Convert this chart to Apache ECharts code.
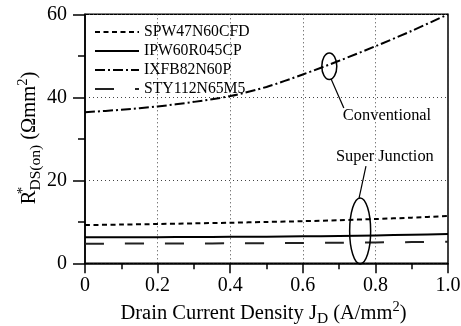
<!DOCTYPE html>
<html>
<head>
<meta charset="utf-8">
<script src="https://cdn.jsdelivr.net/npm/echarts@6/dist/echarts.min.js"></script>
<style>
  html, body { margin: 0; padding: 0; background: #fff; }
  #chart { width: 461px; height: 326px; }
</style>
</head>
<body>
<div id="chart"></div>
<script>
// Specific on-resistance vs. drain current density
const currentDensity = [0, 0.1, 0.2, 0.3, 0.4, 0.5, 0.6, 0.7, 0.8, 0.9, 1.0];
const spw47n60cfd = [9.2, 9.33, 9.47, 9.62, 9.78, 9.96, 10.15, 10.39, 10.67, 11.0, 11.4];
const ipw60r045cp = [6.27, 6.28, 6.3, 6.33, 6.37, 6.42, 6.5, 6.6, 6.72, 6.87, 7.05];
const ixfb82n60p = [36.4, 37.0, 37.8, 38.9, 40.3, 42.5, 45.5, 48.8, 52.3, 56.0, 60.0];
const sty112n65m5 = [4.73, 4.74, 4.76, 4.78, 4.81, 4.85, 4.9, 4.96, 5.03, 5.11, 5.2];
const seriesNames = ['SPW47N60CFD', 'IPW60R045CP', 'IXFB82N60P', 'STY112N65M5'];
const xTickLabels = ['0', '0.2', '0.4', '0.6', '0.8', '1.0'];
const yTickLabels = ['0', '20', '40', '60'];

// Group callouts (data coordinates)
const groupLabels = ['Conventional', 'Super Junction'];
const groupMarkers = [[0.673, 47.5], [0.758, 7.8]];
const groupLabelAt = [[0.832, 35.5], [0.826, 25.6]];
const leaderFrom = [[0.678, 44.4], [0.774, 23.4]];
const leaderTo = [[0.713, 37.4], [0.755, 15.7]];

const FONT = '"Liberation Serif", "Times New Roman", serif';
const grid = { left: 85, right: 13, top: 14.3, bottom: 62.7 };

const chart = echarts.init(document.getElementById('chart'), null, { renderer: 'canvas' });

function pairs(ys) { return currentDensity.map((x, i) => [x, ys[i]]); }

const lineStyles = [
  { color: '#000', width: 2, type: [5, 3.5] },
  { color: '#000', width: 2, type: 'solid' },
  { color: '#000', width: 2, type: [10, 3, 2, 3] },
  { color: '#222', width: 2, type: [19, 21] }
];
const values = [spw47n60cfd, ipw60r045cp, ixfb82n60p, sty112n65m5];

const option = {
  animation: false,
  backgroundColor: '#fff',
  grid: Object.assign({ show: true, borderColor: '#000', borderWidth: 1.5, outerBoundsMode: 'none', containLabel: false }, grid),
  legend: {
    orient: 'vertical',
    left: 94,
    top: 24,
    padding: 0,
    itemWidth: 44,
    itemHeight: 16,
    itemGap: 3,
    data: seriesNames,
    itemStyle: { opacity: 0 },
    textStyle: { fontFamily: FONT, fontSize: 15.7, color: '#000' }
  },
  xAxis: {
    type: 'value',
    min: 0, max: 1, interval: 0.2,
    axisLine: { show: true, lineStyle: { color: '#000', width: 1.5 } },
    axisTick: { show: true, length: 10, lineStyle: { color: '#000', width: 1.5 } },
    minorTick: { show: true, splitNumber: 2, length: 6, lineStyle: { color: '#000', width: 1.5 } },
    splitLine: { show: true, lineStyle: { color: '#444', width: 1, type: [1, 3] } },
    axisLabel: {
      fontFamily: FONT, fontSize: 20, color: '#000', margin: 12,
      formatter: v => xTickLabels[Math.round(v / 0.2)]
    }
  },
  yAxis: {
    type: 'value',
    min: 0, max: 60, interval: 20,
    axisLine: { show: true, lineStyle: { color: '#000', width: 1.5 } },
    axisTick: { show: true, length: 12, lineStyle: { color: '#000', width: 1.5 } },
    minorTick: { show: true, splitNumber: 2, length: 7, lineStyle: { color: '#000', width: 1.5 } },
    splitLine: { show: true, lineStyle: { color: '#444', width: 1, type: [1, 3] } },
    axisLabel: {
      fontFamily: FONT, fontSize: 20, color: '#000', margin: 18,
      formatter: v => yTickLabels[Math.round(v / 20)]
    }
  },
  series: seriesNames.map((name, i) => ({
    name,
    type: 'line',
    data: pairs(values[i]),
    smooth: 0.3,
    symbol: 'none',
    lineStyle: lineStyles[i],
    itemStyle: { color: lineStyles[i].color },
    z: 3
  }))
};

chart.setOption(option);

const toPx = p => chart.convertToPixel({ gridIndex: 0 }, p);
const markerRadii = [[7.5, 13.3], [10.5, 33]];

const graphics = [];
groupMarkers.forEach((c, i) => {
  const p = toPx(c);
  graphics.push({
    type: 'ellipse', z: 100,
    shape: { cx: p[0], cy: p[1], rx: markerRadii[i][0], ry: markerRadii[i][1] },
    style: { fill: 'none', stroke: '#000', lineWidth: 1.5 }
  });
  const a = toPx(leaderFrom[i]), b = toPx(leaderTo[i]);
  graphics.push({
    type: 'line', z: 100,
    shape: { x1: a[0], y1: a[1], x2: b[0], y2: b[1] },
    style: { stroke: '#000', lineWidth: 1.2 }
  });
  const t = toPx(groupLabelAt[i]);
  graphics.push({
    type: 'text', z: 100, x: t[0], y: t[1],
    style: { text: groupLabels[i], font: '16.4px ' + FONT, fill: '#000', align: 'center', verticalAlign: 'middle' }
  });
});

// Axis titles
const plotLeft = grid.left, plotRight = 461 - grid.right, plotBottom = 326 - grid.bottom;
graphics.push({
  type: 'text', z: 100,
  x: (plotLeft + plotRight) / 2 - 3, y: plotBottom + 50,
  style: {
    text: 'Drain Current Density J{sub|D} (A/mm{sup|2})',
    font: '20.5px ' + FONT, fill: '#000', align: 'center', verticalAlign: 'middle',
    lineHeight: 28,
    rich: {
      sub: { fontSize: 15.5, fontFamily: FONT, verticalAlign: 'bottom', lineHeight: 15, fill: '#000' },
      sup: { fontSize: 14.5, fontFamily: FONT, verticalAlign: 'top', lineHeight: 16, fill: '#000' }
    }
  }
});
graphics.push({
  type: 'text', z: 100,
  x: 29.5, y: 138, rotation: Math.PI / 2,
  style: {
    text: 'R{star|*}{sub|DS(on)} (Ωmm{sup|2})',
    font: '20.5px ' + FONT, fill: '#000', align: 'center', verticalAlign: 'middle',
    lineHeight: 28,
    rich: {
      star: { fontSize: 15, fontFamily: FONT, verticalAlign: 'top', lineHeight: 15, width: 0.1, fill: '#000' },
      sub: { fontSize: 15.5, fontFamily: FONT, verticalAlign: 'bottom', lineHeight: 15, fill: '#000' },
      sup: { fontSize: 14.5, fontFamily: FONT, verticalAlign: 'top', lineHeight: 16, fill: '#000' }
    }
  }
});

chart.setOption({ graphic: graphics });
</script>
</body>
</html>
